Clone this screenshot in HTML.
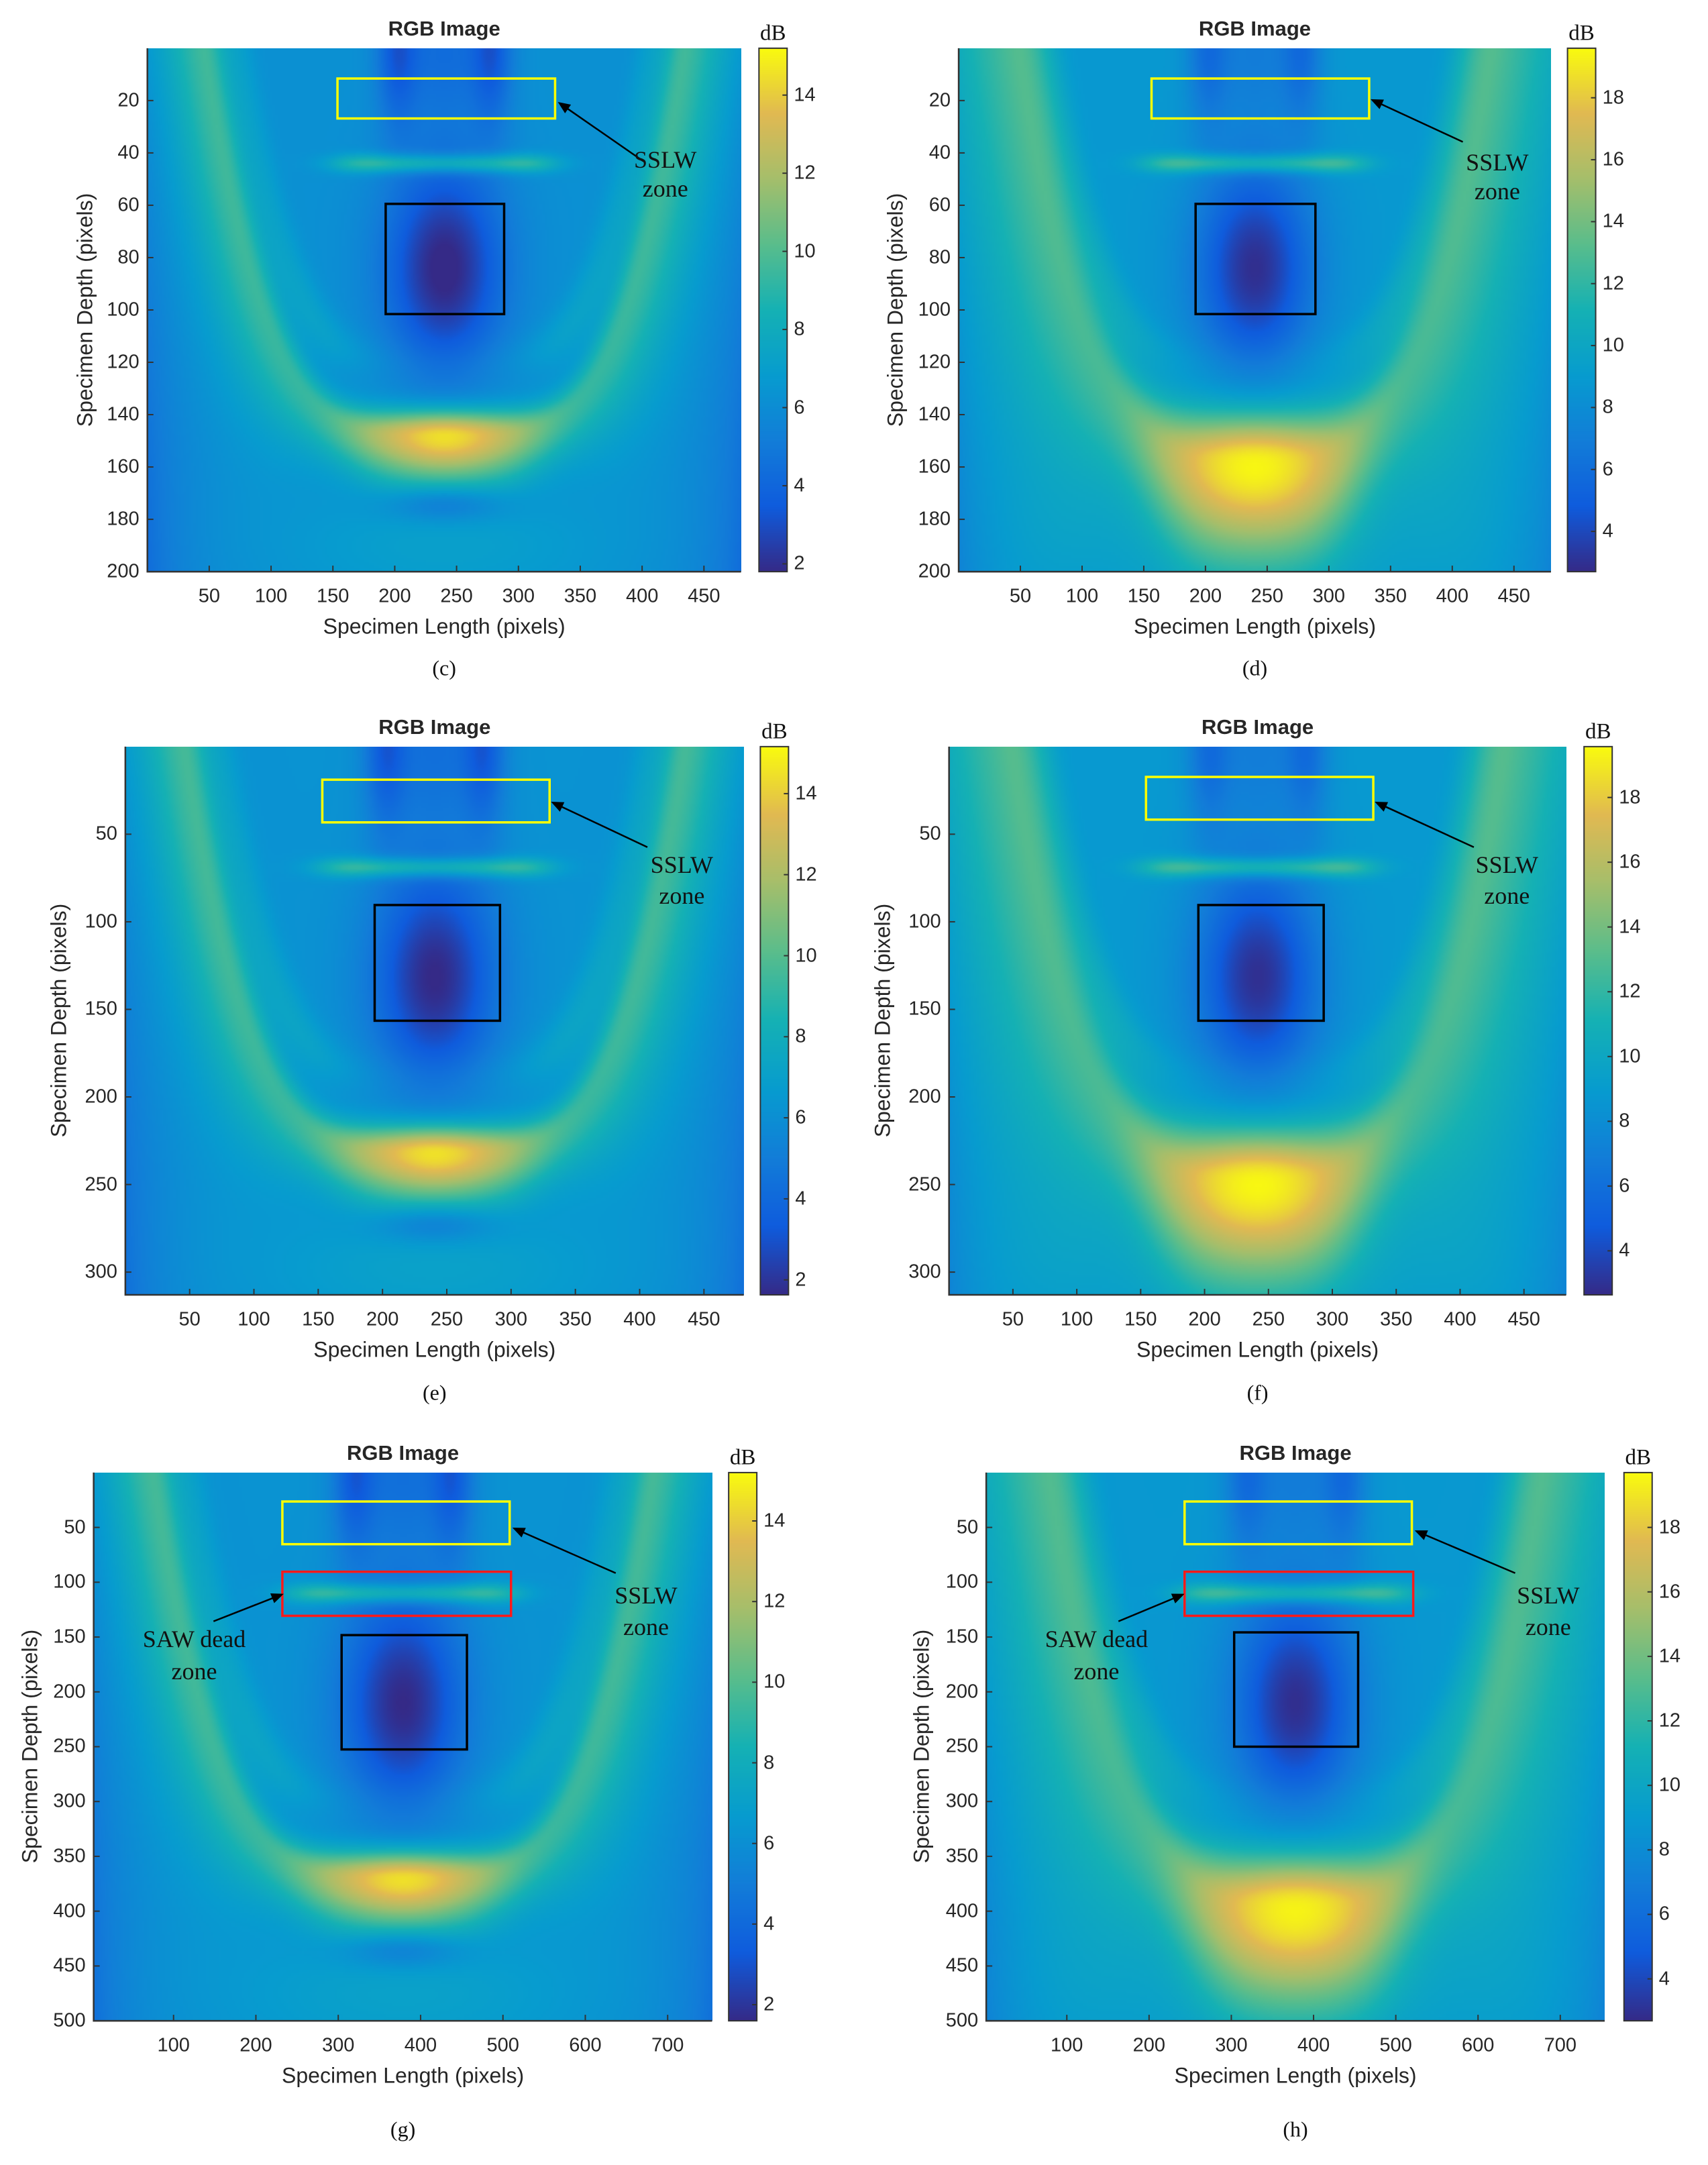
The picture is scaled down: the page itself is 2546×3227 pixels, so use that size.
<!DOCTYPE html>
<html><head><meta charset="utf-8">
<style>
html,body{margin:0;padding:0;background:#fff;}
#root{position:relative;width:2546px;height:3227px;overflow:hidden;background:#fff;}
.t{position:absolute;white-space:nowrap;font-family:"Liberation Sans",sans-serif;color:#262626;}
.serif{font-family:"Liberation Serif",serif;color:#111;}
canvas{position:absolute;}
svg{position:absolute;left:0;top:0;}
</style></head>
<body>
<div id="root"></div>
<script>
// ---- data arrays ----
const xTicks480 = [50,100,150,200,250,300,350,400,450];
const xTicks750 = [100,200,300,400,500,600,700];
const yTicks200 = [20,40,60,80,100,120,140,160,180,200];
const yTicks313 = [50,100,150,200,250,300];
const yTicks500 = [50,100,150,200,250,300,350,400,450,500];
const cbTicksLow = [2,4,6,8,10,12,14];
const cbTicksHigh = [4,6,8,10,12,14,16,18];
const panelLabels = ['(c)','(d)','(e)','(f)','(g)','(h)'];
// heatmap feature levels (dB): base, arc side, arc plateau, arc peak, dark-zone minimum
const baseLevel = [6.2, 8.8, 6.2, 8.8, 6.2, 8.8];
const arcSide = [9.3, 12.6, 9.3, 12.6, 9.3, 12.6];
const arcPlateau = [12.2, 16.5, 12.2, 16.5, 12.2, 16.5];
const arcPeak = [14.8, 19.4, 14.8, 19.4, 14.8, 19.4];
const darkMin = [1.6, 2.9, 1.6, 2.9, 1.6, 2.9];
const cbMin = [1.8, 2.7, 1.63, 2.64, 1.6, 2.7];
const cbMax = [15.2, 19.6, 15.16, 19.57, 15.2, 19.7];

const S = 2546/1240;
const root = document.getElementById('root');
const NS = 'http://www.w3.org/2000/svg';
const svg = document.createElementNS(NS,'svg');
svg.setAttribute('width','2546');svg.setAttribute('height','3227');



const PAR = [[53,42,135],[15,92,221],[18,125,216],[7,156,207],[21,177,180],[89,189,140],[165,190,107],[225,185,82],[249,251,14]];
function parula(t){t=Math.max(0,Math.min(1,t));const f=t*8,i=Math.min(7,Math.floor(f)),r=f-i;const a=PAR[i],b=PAR[i+1];
  return [a[0]+(b[0]-a[0])*r,a[1]+(b[1]-a[1])*r,a[2]+(b[2]-a[2])*r];}

function text(str,x,y,size,cls,name,opts){
  const d=document.createElement('div');d.className='t'+(cls?' '+cls:'');d.textContent=str;
  d.style.fontSize=size+'px';d.style.left=x+'px';d.style.top=y+'px';
  let tr='translate(-50%,-50%)';if(opts&&opts.rot)tr+=' rotate(-90deg)';if(opts&&opts.align==='left')tr='translate(0,-50%)';
  d.style.transform=tr;if(opts&&opts.bold)d.style.fontWeight='bold';
  
  
  root.appendChild(d);return d;}

function field(k,u,v,wide){
  const base=baseLevel[k];
  let val=base;
  const ex=Math.min(u,1-u);
  val-=1.4*Math.exp(-ex/0.07)*(0.4+v);
  val+=(wide?1.2:0.9)*Math.exp(-Math.pow((u-0.5)/0.3,2))*Math.exp(-Math.pow((v-0.95)/0.12,2));
  const ad=Math.abs((u-0.5)/0.41);
  {
    const arcV=0.74*(1-Math.pow(ad,4));
    const slope=0.74*4*Math.pow(ad,3)/0.41;
    const plat=Math.exp(-Math.pow((u-0.5)/(wide?0.19:0.17),4));
    const pk=Math.exp(-Math.pow((u-0.5)/(wide?0.11:0.09),2));
    const sig=wide?(0.075+0.05*plat):(0.05+0.015*plat);
    const amp=(arcSide[k]-base)+(arcPlateau[k]-arcSide[k])*plat+(arcPeak[k]-arcPlateau[k])*pk;
    const dv=(v-(arcV+(wide?0.05*plat:0.0)))/Math.sqrt(1+slope*slope);
    const s=dv<0?sig*0.75:sig*1.3;
    val+=amp*Math.exp(-Math.pow(dv/s,2));
    const ad2=Math.abs((u-0.5)/0.36);
    const a2=0.6*(1-Math.pow(ad2,4));const sl2=0.6*4*Math.pow(ad2,3)/0.36;
    val+=(wide?1.6:1.2)*Math.exp(-Math.pow((v-a2)/Math.sqrt(1+sl2*sl2)/0.04,2))*(1-plat*0.8);
  }
  const dk=Math.exp(-Math.pow((u-0.5)/0.1,2))*Math.exp(-Math.pow((v-0.42)/0.2,2));
  val-=(base-darkMin[k])*dk;
  val-=2.6*(Math.exp(-Math.pow((u-0.42)/0.035,2))+Math.exp(-Math.pow((u-0.58)/0.035,2))+0.7*Math.exp(-Math.pow((u-0.5)/0.07,2)))*Math.exp(-Math.pow(v/0.15,2));
  const lw=1/(1+Math.exp((Math.abs(u-0.5)-0.18)/0.02));
  val+=(wide?4.5:3.6)*Math.exp(-Math.pow((v-0.22)/0.018,2))*lw;
  if(!wide)val-=2.0*Math.exp(-Math.pow((u-0.5)/0.1,2))*Math.exp(-Math.pow((v-0.87)/0.035,2));
  return val;
}

function panel(k,cfg){
  const px=cfg.l*S,py=cfg.t*S,pw=(cfg.r-cfg.l)*S,ph=(cfg.b-cfg.t)*S;
  const cv=document.createElement('canvas');const W=240,H=200;cv.width=W;cv.height=H;
  cv.style.left=px+'px';cv.style.top=py+'px';cv.style.width=pw+'px';cv.style.height=ph+'px';
  
  
  const ctx=cv.getContext('2d');const img=ctx.createImageData(W,H);
  for(let j=0;j<H;j++)for(let i=0;i<W;i++){const val=field(k,(i+0.5)/W,(j+0.5)/H,cfg.wide);
    const c=parula((val-cbMin[k])/(cbMax[k]-cbMin[k]));const o=(j*W+i)*4;img.data[o]=c[0];img.data[o+1]=c[1];img.data[o+2]=c[2];img.data[o+3]=255;}
  ctx.putImageData(img,0,0);root.appendChild(cv);
  const ax=document.createElementNS(NS,'path');
  ax.setAttribute('d',`M${px} ${py}V${py+ph}H${px+pw}`);ax.setAttribute('stroke','#333');ax.setAttribute('stroke-width','2.5');ax.setAttribute('fill','none');
  
  
  svg.appendChild(ax);
  const xs=v=>px+(v-cfg.x0)/(cfg.x1-cfg.x0)*pw, ys=v=>py+(v-cfg.y0)/(cfg.y1-cfg.y0)*ph;
  cfg.xt.forEach(v=>{const x=xs(v);const tk=document.createElementNS(NS,'line');
    tk.setAttribute('x1',x);tk.setAttribute('x2',x);tk.setAttribute('y1',py+ph);tk.setAttribute('y2',py+ph-9);tk.setAttribute('stroke','#333');tk.setAttribute('stroke-width','2');
    
    
    svg.appendChild(tk);
    text(String(v),x,py+ph+37,29,'','x-tick-label');});
  cfg.yt.forEach(v=>{const y=ys(v);const tk=document.createElementNS(NS,'line');
    tk.setAttribute('x1',px);tk.setAttribute('x2',px+9);tk.setAttribute('y1',y);tk.setAttribute('y2',y);tk.setAttribute('stroke','#333');tk.setAttribute('stroke-width','2');
    
    
    svg.appendChild(tk);
    const lb=text(String(v),px-12,y,29,'','y-tick-label');lb.style.transform='translate(-100%,-50%)';});
  text('RGB Image',px+pw/2,py-29,31,'','chart-title',{bold:true});
  text('Specimen Length (pixels)',px+pw/2,py+ph+82,32,'','x-axis-title');
  text('Specimen Depth (pixels)',cfg.yl*S,py+ph/2,32,'','y-axis-title',{rot:true});
  text(panelLabels[k],px+pw/2,cfg.cap*S,32,'serif','panel-caption');
  const cx=cfg.cb*S,cw=42;const cb=document.createElement('canvas');cb.width=1;cb.height=200;
  cb.style.left=cx+'px';cb.style.top=py+'px';cb.style.width=cw+'px';cb.style.height=ph+'px';
  
  
  const c2=cb.getContext('2d');const im2=c2.createImageData(1,200);
  for(let j=0;j<200;j++){const c=parula(1-(j+0.5)/200);im2.data[j*4]=c[0];im2.data[j*4+1]=c[1];im2.data[j*4+2]=c[2];im2.data[j*4+3]=255;}
  c2.putImageData(im2,0,0);root.appendChild(cb);
  const bx=document.createElementNS(NS,'rect');bx.setAttribute('x',cx);bx.setAttribute('y',py);bx.setAttribute('width',cw);bx.setAttribute('height',ph);
  bx.setAttribute('fill','none');bx.setAttribute('stroke','#333');bx.setAttribute('stroke-width','2');
  
  
  svg.appendChild(bx);
  cfg.cbt.forEach(v=>{const y=py+(cbMax[k]-v)/(cbMax[k]-cbMin[k])*ph;const tk=document.createElementNS(NS,'line');
    tk.setAttribute('x1',cx+cw-7);tk.setAttribute('x2',cx+cw);tk.setAttribute('y1',y);tk.setAttribute('y2',y);tk.setAttribute('stroke','#333');tk.setAttribute('stroke-width','2');
    
    
    svg.appendChild(tk);
    text(String(v),cx+cw+10,y,29,'','colorbar-tick-label',{align:'left'});});
  text('dB',cx+cw/2,py-22,33,'serif','colorbar-unit');
}

function rect(l,t,r,b,col,name){const e=document.createElementNS(NS,'rect');
  e.setAttribute('x',l*S);e.setAttribute('y',t*S);e.setAttribute('width',(r-l)*S);e.setAttribute('height',(b-t)*S);
  e.setAttribute('fill','none');e.setAttribute('stroke',col);e.setAttribute('stroke-width','3.5');
  
  
  svg.appendChild(e);}
function arrow(x1,y1,x2,y2){const X1=x1*S,Y1=y1*S,X2=x2*S,Y2=y2*S;const a=Math.atan2(Y2-Y1,X2-X1);
  const ln=document.createElementNS(NS,'line');ln.setAttribute('x1',X1);ln.setAttribute('y1',Y1);ln.setAttribute('x2',X2-14*Math.cos(a));ln.setAttribute('y2',Y2-14*Math.sin(a));
  ln.setAttribute('stroke','#000');ln.setAttribute('stroke-width','2.5');
  
  
  svg.appendChild(ln);
  const h=document.createElementNS(NS,'polygon');const L=20,w=0.4;
  h.setAttribute('points',`${X2},${Y2} ${X2-L*Math.cos(a-w)},${Y2-L*Math.sin(a-w)} ${X2-L*Math.cos(a+w)},${Y2-L*Math.sin(a+w)}`);
  
  
  svg.appendChild(h);}
function note(str,x,y,name){text(str,x*S,y*S,36,'serif',name);}

const cfgs=[
 {l:107,t:35,r:538,b:415,x0:0,x1:480,y0:0,y1:200,xt:xTicks480,yt:yTicks200,cbt:cbTicksLow,cb:551,yl:62,cap:485,wide:false},
 {l:696,t:35,r:1126,b:415,x0:0,x1:480,y0:0,y1:200,xt:xTicks480,yt:yTicks200,cbt:cbTicksHigh,cb:1138,yl:650,cap:485,wide:true},
 {l:91,t:542,r:540,b:940,x0:0,x1:481,y0:0,y1:313,xt:xTicks480,yt:yTicks313,cbt:cbTicksLow,cb:552,yl:43,cap:1011,wide:false},
 {l:689,t:542,r:1137,b:940,x0:0,x1:483,y0:0,y1:313,xt:xTicks480,yt:yTicks313,cbt:cbTicksHigh,cb:1150,yl:641,cap:1011,wide:true},
 {l:68,t:1069,r:517,b:1467,x0:3,x1:754,y0:0,y1:500,xt:xTicks750,yt:yTicks500,cbt:cbTicksLow,cb:529,yl:22,cap:1546,wide:false},
 {l:716,t:1069,r:1165,b:1467,x0:2,x1:754,y0:0,y1:500,xt:xTicks750,yt:yTicks500,cbt:cbTicksHigh,cb:1179,yl:669,cap:1546,wide:true}
];
cfgs.forEach((c,k)=>panel(k,c));
root.appendChild(svg);

rect(245,57,403,86,'#ffff00','sslw-box-c');rect(280,148,366,228,'#000','defect-box-c');
arrow(467,117,405,74);note('SSLW',483,116,'sslw-label');note('zone',483,137,'sslw-label');
rect(836,57,994,86,'#ffff00','sslw-box-d');rect(868,148,955,228,'#000','defect-box-d');
arrow(1062,103,995,72);note('SSLW',1087,118,'sslw-label');note('zone',1087,139,'sslw-label');
rect(234,566,399,597,'#ffff00','sslw-box-e');rect(272,657,363,741,'#000','defect-box-e');
arrow(470,615,400,582);note('SSLW',495,628,'sslw-label');note('zone',495,650,'sslw-label');
rect(832,564,997,595,'#ffff00','sslw-box-f');rect(870,657,961,741,'#000','defect-box-f');
arrow(1070,615,998,582);note('SSLW',1094,628,'sslw-label');note('zone',1094,650,'sslw-label');
rect(205,1090,370,1121,'#ffff00','sslw-box-g');rect(205,1141,371,1173,'#ff1a1a','saw-box-g');rect(248,1187,339,1270,'#000','defect-box-g');
arrow(447,1142,372,1109);note('SSLW',469,1158,'sslw-label');note('zone',469,1181,'sslw-label');
arrow(155,1177,206,1157);note('SAW dead',141,1190,'saw-label');note('zone',141,1213,'saw-label');
rect(860,1090,1025,1121,'#ffff00','sslw-box-h');rect(860,1141,1026,1173,'#ff1a1a','saw-box-h');rect(896,1185,986,1268,'#000','defect-box-h');
arrow(1100,1142,1027,1111);note('SSLW',1124,1158,'sslw-label');note('zone',1124,1181,'sslw-label');
arrow(812,1177,860,1157);note('SAW dead',796,1190,'saw-label');note('zone',796,1213,'saw-label');
</script>
</body></html>
